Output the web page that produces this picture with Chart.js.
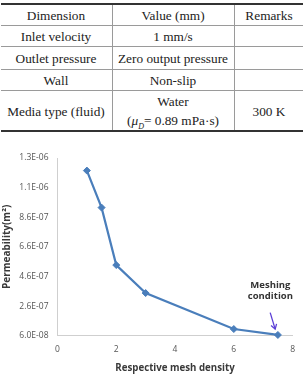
<!DOCTYPE html>
<html><head><meta charset="utf-8">
<script src="https://cdn.jsdelivr.net/npm/chart.js@4"></script>
<style>
html,body{margin:0;padding:0;background:#fff;width:304px;height:374px;overflow:hidden;}
#tbl{position:absolute;left:0;top:0;width:304px;height:140px;font-family:"Liberation Serif","Times New Roman",serif;font-size:13.3px;color:#222;}
.hl{position:absolute;left:1px;width:302px;height:1px;background:#9a9a9a;}
.thick{height:2px;background:#333;}
.vl{position:absolute;width:1px;background:#9a9a9a;top:5px;height:125px;}
.cell{position:absolute;display:flex;align-items:center;justify-content:center;text-align:center;line-height:19px;padding-top:1px;box-sizing:border-box;}
#chartBox{position:absolute;left:0;top:140px;width:304px;height:234px;}
</style>
</head><body>
<div id="tbl">
  <div class="hl thick" style="top:3px"></div>
  <div class="hl" style="top:25px"></div>
  <div class="hl" style="top:46px"></div>
  <div class="hl" style="top:69px"></div>
  <div class="hl" style="top:90px"></div>
  <div class="hl thick" style="top:130px"></div>
  <div class="vl" style="left:112px"></div>
  <div class="vl" style="left:234px"></div>

  <div class="cell" style="left:0;width:112px;top:5px;height:20px"><span>Dimension</span></div>
  <div class="cell" style="left:112px;width:122px;top:5px;height:20px"><span>Value (mm)</span></div>
  <div class="cell" style="left:234px;width:70px;top:5px;height:20px"><span>Remarks</span></div>

  <div class="cell" style="left:0;width:112px;top:26px;height:20px"><span>Inlet velocity</span></div>
  <div class="cell" style="left:112px;width:122px;top:26px;height:20px"><span>1 mm/s</span></div>

  <div class="cell" style="left:0;width:112px;top:47px;height:22px"><span>Outlet pressure</span></div>
  <div class="cell" style="left:112px;width:122px;top:47px;height:22px"><span>Zero output pressure</span></div>

  <div class="cell" style="left:0;width:112px;top:70px;height:20px"><span>Wall</span></div>
  <div class="cell" style="left:112px;width:122px;top:70px;height:20px"><span>Non-slip</span></div>

  <div class="cell" style="left:0;width:112px;top:91px;height:39px"><span>Media type (fluid)</span></div>
  <div class="cell" style="left:112px;width:122px;top:91px;height:39px"><span>Water<br>(<i>μ<sub style="font-size:8px;line-height:0">D</sub></i>= 0.89 mPa·s)</span></div>
  <div class="cell" style="left:234px;width:70px;top:91px;height:39px"><span>300 K</span></div>
</div>
<div id="chartBox"><canvas id="c"></canvas></div>
<script>
const meshDensity = [1, 1.5, 2, 3, 6, 7.5];
const permeability = [1.175e-6, 9.25e-7, 5.37e-7, 3.48e-7, 1.05e-7, 6.5e-8];
const yTickValues = [6e-8, 2.6e-7, 4.6e-7, 6.6e-7, 8.6e-7, 1.06e-6, 1.26e-6];
const yTickLabels = ['6.0E-08', '2.6E-07', '4.6E-07', '6.6E-07', '8.6E-07', '1.1E-06', '1.3E-06'];
const xTickValues = [0, 2, 4, 6, 8];
const xTickLabels = ['0', '2', '4', '6', '8'];
const annotationLines = ['Meshing', 'condition'];

const points = meshDensity.map((x, i) => ({x: x, y: permeability[i]}));

const annotPlugin = {
  id: 'meshNote',
  afterDatasetsDraw(chart) {
    const meta = chart.getDatasetMeta(0);
    const p = meta.data[meta.data.length - 1];
    const c = chart.ctx;
    c.save();
    c.fillStyle = '#333';
    c.font = 'bold 9.5px "Open Sans"';
    c.textAlign = 'center';
    c.textBaseline = 'middle';
    c.fillText(annotationLines[0], p.x - 7.5, p.y - 50);
    c.fillText(annotationLines[1], p.x - 7.5, p.y - 39);
    c.strokeStyle = '#5b3fd6';
    c.lineWidth = 1.3;
    const tx = p.x - 2.7, ty = p.y - 5.8, sx = p.x - 7.7, sy = p.y - 22.3;
    c.beginPath(); c.moveTo(sx, sy); c.lineTo(tx, ty); c.stroke();
    const ang = Math.atan2(ty - sy, tx - sx), L = 5.5;
    c.beginPath();
    c.moveTo(tx - L * Math.cos(ang - 0.55), ty - L * Math.sin(ang - 0.55));
    c.lineTo(tx, ty);
    c.lineTo(tx - L * Math.cos(ang + 0.55), ty - L * Math.sin(ang + 0.55));
    c.stroke();
    c.restore();
  }
};

new Chart(document.getElementById('c'), {
  type: 'line',
  data: {
    datasets: [{
      data: points,
      borderColor: '#4a7ebb',
      backgroundColor: '#4a7ebb',
      borderWidth: 2.2,
      pointStyle: 'rectRot',
      pointRadius: 3.5,
      pointBorderWidth: 1,
      tension: 0,
      clip: false
    }]
  },
  options: {
    responsive: true,
    maintainAspectRatio: false,
    animation: false,
    devicePixelRatio: 1,
    layout: {padding: {top: 18, right: 7, left: 0, bottom: 0}},
    plugins: {legend: {display: false}, tooltip: {enabled: false}},
    scales: {
      x: {
        type: 'linear', min: 0, max: 8,
        afterBuildTicks: s => { s.ticks = xTickValues.map(v => ({value: v})); },
        afterFit: s => { s.height = 38.3; },
        grid: {display: false, drawTicks: false},
        border: {display: true, color: '#cfcfcf', width: 1},
        ticks: {padding: 9, color: '#555', autoSkip: false, maxRotation: 0,
          font: {family: 'Open Sans', size: 8.5},
          callback: (v, i) => xTickLabels[i]},
        title: {display: true, text: 'Respective mesh density', color: '#3a3a3a',
          font: {family: 'Open Sans', size: 9.7, weight: 'bold'}, padding: {top: 0, bottom: 0}}
      },
      y: {
        type: 'linear', min: 6e-8, max: 1.26e-6,
        afterBuildTicks: s => { s.ticks = yTickValues.map(v => ({value: v})); },
        afterFit: s => { s.width = 57.5; },
        grid: {display: false, drawTicks: false},
        border: {display: true, color: '#cfcfcf', width: 1},
        ticks: {padding: 9, color: '#555', autoSkip: false,
          font: {family: 'Open Sans', size: 8.5},
          callback: (v, i) => yTickLabels[i]},
        title: {display: true, text: 'Permeability(m²)', color: '#3a3a3a',
          font: {family: 'Open Sans', size: 10, weight: 'bold'}, padding: {top: 1, bottom: 0}}
      }
    }
  },
  plugins: [annotPlugin]
});
</script>
</body></html>
